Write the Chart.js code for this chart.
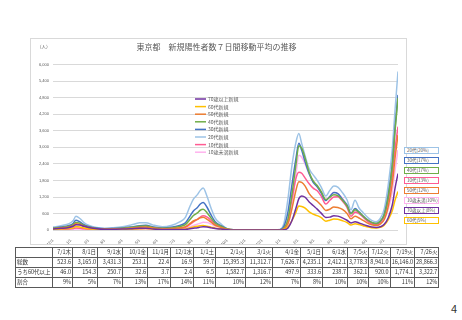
<!DOCTYPE html>
<html lang="ja">
<head>
<meta charset="utf-8">
<script src="https://cdn.jsdelivr.net/npm/chart.js@4"></script>
<style>
  body { margin: 0; width: 462px; height: 320px; background: #fff; position: relative; overflow: hidden;
         font-family: "Noto Sans CJK JP", "Noto Sans", sans-serif; color: #404040; }
  #box { position: absolute; left: 30px; top: 38px; width: 377px; height: 207px; border: 1px solid #d9d9d9; box-sizing: border-box; }
  #unit { position: absolute; left: 37px; top: 43px; font-size: 4.5px; color: #595959; }
  .tag { position: absolute; left: 404px; width: 35px; height: 7px; box-sizing: border-box; border: 1px solid; background: #fff;
         font-size: 4.5px; line-height: 5px; padding-left: 2px; color: #595959; white-space: nowrap; }
  #tbl { position: absolute; left: 15px; top: 247px; border-collapse: collapse; table-layout: fixed; font-size: 5.5px; color: #333; }
  #tbl td { border: 1px solid #595959; height: 9px; line-height: 9px; padding: 0 1px; white-space: nowrap; overflow: hidden; text-align: right; }
  #tbl tr:first-child td { text-align: center; }
  #tbl td:first-child { text-align: left; }
  #tbl tr:first-child td:first-child { border: none; }
  #page { position: absolute; left: 451px; top: 300px; font-size: 11px; color: #333; }
</style>
</head>
<body>
<div id="box"><canvas id="lineChart"></canvas></div>
<div id="unit">（人）</div>
<div id="tags"></div>
<table id="tbl"></table>
<div id="page">4</div>
<script>
// sample dates (7-day moving average)
const dates = ['2020-12-01','2020-12-15','2020-12-29','2021-01-05','2021-01-10','2021-01-17','2021-01-24','2021-02-01','2021-02-15','2021-03-01','2021-03-15',
  '2021-04-01','2021-04-15','2021-05-01','2021-05-12','2021-05-25','2021-06-10','2021-06-25',
  '2021-07-10','2021-07-20','2021-07-28','2021-08-03','2021-08-10','2021-08-15','2021-08-20','2021-08-27','2021-09-03','2021-09-10','2021-09-20',
  '2021-10-01','2021-10-15','2021-11-01','2021-12-01','2021-12-20','2022-01-01','2022-01-08',
  '2022-01-15','2022-01-22','2022-01-29','2022-02-03','2022-02-08','2022-02-14','2022-02-21','2022-02-28','2022-03-07','2022-03-14',
  '2022-03-22','2022-03-29','2022-04-05','2022-04-12','2022-04-20','2022-04-28','2022-05-05','2022-05-12','2022-05-19','2022-05-26','2022-06-02','2022-06-10','2022-06-18',
  '2022-06-25','2022-07-02','2022-07-09','2022-07-16','2022-07-21','2022-07-26'];

const age70 = [44,64,96,138,193,186,137,98,49,31,33, 36,46,64,67,42,24,20, 21,25,48,66,86,108,118,109,81,56,36, 13,4,2,1,1,2,11,
  75,348,800,1140,1240,1190,1020,890,760,615, 455,470,520,507,442,357,260,300,260,208,156,114,98, 120,210,450,910,1540,2050];
const age60 = [28,41,61,88,130,116,79,53,29,18,21, 26,38,51,57,36,24,25, 33,44,84,116,137,158,165,137,108,72,45, 15,4,1,1,1,3,22,
  120,348,650,875,858,800,660,578,523,450, 325,360,400,390,340,275,185,230,200,160,120,88,75, 100,175,375,700,1100,1400];
const age50 = [52,75,113,163,228,200,137,91,49,34,39, 48,70,102,114,72,48,55, 82,125,240,330,390,450,470,390,284,176,99, 30,7,3,2,2,6,44,
  240,783,1450,1750,1730,1595,1320,1155,1045,902, 715,756,840,819,748,605,407,506,440,352,264,193,165, 220,385,863,1680,2640,3450];
const age40 = [64,93,139,200,280,248,168,112,61,42,48, 64,93,136,152,96,64,80, 131,200,384,528,624,720,752,624,432,256,144, 40,10,4,3,3,9,72,
  390,1305,2390,3060,2970,2610,2100,1785,1615,1394, 1105,1188,1280,1248,1088,880,592,736,640,512,384,280,240, 320,560,1200,2310,3630,4800];
const age30 = [76,110,165,238,360,295,200,133,72,49,57, 76,110,162,180,114,76,100, 172,263,504,693,819,945,1000,819,540,304,162, 45,11,4,3,4,15,138,
  660,1650,2610,3150,2890,2465,2040,1730,1570,1350, 1070,1220,1360,1326,1120,910,610,780,660,510,385,280,240, 320,580,1275,2380,3740,4900];
const age20 = [110,160,235,338,500,420,273,175,95,68,84, 120,180,264,270,180,120,165, 295,462,864,1122,1287,1440,1530,1209,783,432,225, 55,12,4,4,6,24,248,
  1140,2350,3190,3500,3135,2680,2220,2000,1805,1560, 1235,1440,1600,1560,1360,1100,740,1080,800,640,480,350,300, 420,770,1650,2940,4400,5750];
const age10 = [18,26,39,56,79,70,47,32,19,14,17, 28,41,60,67,42,28,40, 66,100,204,297,390,473,517,468,351,208,117, 30,7,3,2,2,7,55,
  360,1130,1885,2100,2060,1885,1680,1520,1425,1230, 943,1080,1200,1210,1054,825,500,644,600,480,336,228,195, 280,490,1050,1960,2970,3750];
const ageU10 = [10,15,22,31,44,39,28,20,12,9,11, 16,23,34,38,27,20,25, 41,63,120,165,215,248,282,273,216,144,81, 25,6,2,1,2,3,22,
  180,870,2030,2710,2640,2390,2040,1785,1570,1350, 1105,1224,1360,1326,1156,880,592,690,600,480,360,262,210, 240,385,750,1400,2200,2900];

const seriesNames = ['70歳以上新規','60代新規','50代新規','40代新規','30代新規','20代新規','10代新規','10歳未満新規'];
const seriesValues = [age70, age60, age50, age40, age30, age20, age10, ageU10];
const seriesColors = ['#7030A0','#FFC000','#ED7D31','#70AD47','#4472C4','#9DC3E6','#FF5C93','#FFB3EE'];

const tickDates = ['2020-12-01','2021-01-01','2021-02-01','2021-03-01','2021-04-01','2021-05-01','2021-06-01','2021-07-01','2021-08-01','2021-09-01',
  '2021-10-01','2021-11-01','2021-12-01','2022-01-01','2022-02-01','2022-03-01','2022-04-01','2022-05-01','2022-06-01','2022-07-01'];
const tickLabels = ['12/1','1/1','2/1','3/1','4/1','5/1','6/1','7/1','8/1','9/1','10/1','11/1','12/1','1/1','2/1','3/1','4/1','5/1','6/1','7/1'];

// side tags
const tagLabels = ['20代(20%)','30代(17%)','40代(17%)','10代(13%)','50代(12%)','10歳未満(10%)','70歳以上(8%)','60代(5%)'];
const tagColors = ['#9DC3E6','#4472C4','#70AD47','#FF5C93','#ED7D31','#FFB3EE','#7030A0','#FFC000'];

// table
const colHeads = ['7/1木','8/1日','9/1水','10/1金','11/1月','12/1水','1/1土','2/1火','3/1火','4/1金','5/1日','6/1水','7/5火','7/12火','7/19火','7/26火'];
const totalRow = ['523.6','3,165.0','3,431.3','253.1','22.4','16.9','59.7','15,395.3','11,312.7','7,626.7','4,235.1','2,412.1','3,778.3','8,941.0','16,146.0','28,866.3'];
const over60Row = ['46.0','154.3','250.7','32.6','3.7','2.4','6.5','1,582.7','1,316.7','497.9','333.6','238.7','362.1','920.0','1,774.1','3,322.7'];
const ratioRow = ['9%','5%','7%','13%','17%','14%','11%','10%','12%','7%','8%','10%','10%','10%','11%','12%'];
const rowNames = ['総数','うち60代以上','割合'];
const colWidths = [37,20,25,25,25,23,23,22,30,27,28,22,25,20,19,21,24];

const day0 = Date.parse('2020-12-01');
const toDay = s => (Date.parse(s) - day0) / 86400000;
const tickDays = tickDates.map(toDay);

const inlineLegend = {
  id: 'inlineLegend',
  afterDraw(chart, args, opts) {
    const ctx = chart.ctx;
    ctx.save();
    ctx.font = '5px "Noto Sans CJK JP"';
    ctx.textBaseline = 'middle';
    chart.data.datasets.forEach((ds, i) => {
      const y = opts.y + i * opts.gap;
      ctx.strokeStyle = ds.borderColor;
      ctx.lineWidth = 1.5;
      ctx.beginPath();
      ctx.moveTo(opts.x, y);
      ctx.lineTo(opts.x + 11, y);
      ctx.stroke();
      ctx.fillStyle = '#595959';
      ctx.fillText(ds.label, opts.x + 13, y);
    });
    ctx.restore();
  }
};

const lineChart = document.getElementById('lineChart');

new Chart(lineChart, {
  type: 'line',
  data: {
    datasets: seriesNames.map((name, k) => ({
      label: name,
      data: dates.map((d, i) => ({ x: toDay(d), y: seriesValues[k][i] })),
      borderColor: seriesColors[k],
      backgroundColor: seriesColors[k],
      borderWidth: 1.5,
      pointRadius: 0,
      cubicInterpolationMode: 'monotone'
    }))
  },
  options: {
    responsive: true,
    maintainAspectRatio: false,
    animation: false,
    layout: { padding: { left: 4, right: 8, top: 0, bottom: -3 } },
    plugins: {
      legend: { display: false },
      tooltip: { enabled: false },
      title: {
        display: true,
        text: '東京都　新規陽性者数７日間移動平均の推移',
        color: '#595959',
        font: { size: 8, weight: 'normal', family: '"Noto Sans CJK JP"' },
        padding: { top: 3, bottom: 13 }
      },
      inlineLegend: { x: 164, y: 60, gap: 7.6 }
    },
    scales: {
      x: {
        type: 'linear',
        min: 0,
        max: toDay('2022-07-26'),
        grid: { display: false },
        border: { display: false },
        afterBuildTicks: s => { s.ticks = tickDays.map(v => ({ value: v })); },
        ticks: {
          autoSkip: false,
          minRotation: 45,
          maxRotation: 45,
          padding: 0,
          color: '#595959',
          font: { size: 4 },
          callback: (v, i) => tickLabels[i]
        }
      },
      y: {
        min: 0,
        max: 6000,
        border: { display: false },
        grid: { color: '#d9d9d9', drawTicks: false },
        ticks: {
          stepSize: 600,
          padding: 4,
          color: '#595959',
          font: { size: 4 },
          callback: v => v.toLocaleString('en-US')
        }
      }
    }
  },
  plugins: [inlineLegend]
});

// side tags
const tags = document.getElementById('tags');
tagLabels.forEach((t, i) => {
  const d = document.createElement('div');
  d.className = 'tag';
  d.style.top = (147 + i * 10) + 'px';
  d.style.borderColor = tagColors[i];
  d.textContent = t;
  tags.appendChild(d);
});

// table
const tbl = document.getElementById('tbl');
const cg = document.createElement('colgroup');
colWidths.forEach(w => { const c = document.createElement('col'); c.style.width = w + 'px'; cg.appendChild(c); });
tbl.appendChild(cg);
[[''].concat(colHeads), [rowNames[0]].concat(totalRow), [rowNames[1]].concat(over60Row), [rowNames[2]].concat(ratioRow)].forEach(r => {
  const tr = document.createElement('tr');
  r.forEach(v => { const td = document.createElement('td'); td.textContent = v; tr.appendChild(td); });
  tbl.appendChild(tr);
});
</script>
</body>
</html>
